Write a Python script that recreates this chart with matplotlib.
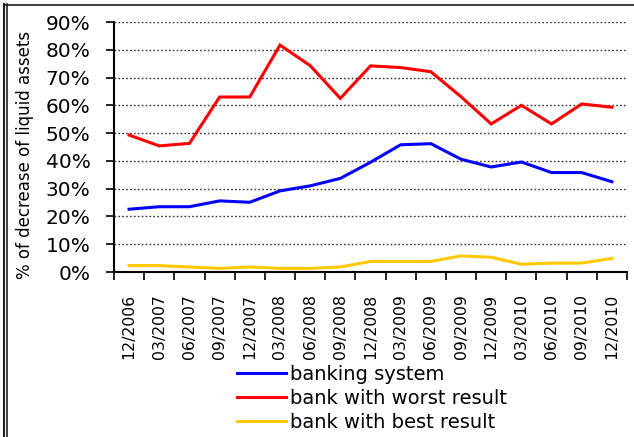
import matplotlib
matplotlib.use("Agg")
import matplotlib.pyplot as plt
from matplotlib.lines import Line2D

categories = ["12/2006", "03/2007", "06/2007", "09/2007", "12/2007", "03/2008",
              "06/2008", "09/2008", "12/2008", "03/2009", "06/2009", "09/2009",
              "12/2009", "03/2010", "06/2010", "09/2010", "12/2010"]
banking_system = [22.6, 23.5, 23.5, 25.6, 25.1, 29.2, 31.0, 33.7, 39.5, 45.8,
                  46.2, 40.6, 37.8, 39.6, 35.8, 35.8, 32.5]
worst_result = [49.3, 45.4, 46.3, 63.0, 63.0, 81.7, 74.3, 62.5, 74.2, 73.6,
                72.1, 63.1, 53.3, 60.0, 53.3, 60.5, 59.3]
best_result = [2.3, 2.3, 1.8, 1.3, 1.8, 1.3, 1.3, 1.8, 3.8, 3.8, 3.8, 5.8,
               5.3, 2.8, 3.2, 3.2, 4.9]
yticks = [0, 10, 20, 30, 40, 50, 60, 70, 80, 90]
series_names = ["banking system", "bank with worst result", "bank with best result"]
colors = ["#0000FF", "#FF0000", "#FFC800"]

W, H = 634, 437
fig = plt.figure(figsize=(W / 100, H / 100), dpi=100)
ax = fig.add_axes([114 / W, 1 - 272 / H, (627 - 114) / W, (272 - 22) / H])

x = list(range(len(categories)))
for vals, c in zip([banking_system, worst_result, best_result], colors):
    ax.plot(x, vals, color=c, lw=2.2, solid_joinstyle="miter", zorder=3)

ax.set_xlim(-0.5, len(categories) - 0.5)
ax.set_ylim(0, 90)
ax.set_yticks(yticks)
ax.set_yticklabels([f"{v}%" for v in yticks], fontsize=14.5)
for v in yticks[1:]:
    ax.axhline(v, color="#333333", lw=1.0, ls=(0, (1.2, 1.6)), zorder=1)

ax.set_xticks([i + 0.5 for i in range(-1, len(categories))], minor=False)
ax.set_xticklabels([])
ax.set_xticks(x, minor=True)
ax.set_xticklabels(categories, minor=True, rotation=90, fontsize=11.3)
ax.tick_params(axis="x", which="minor", length=0, pad=16)
ax.tick_params(axis="x", which="major", length=6, width=1.2, direction="out", color="black")
ax.tick_params(axis="y", length=5.5, width=1.2, direction="out", pad=11.5)

for s in ["top", "right"]:
    ax.spines[s].set_visible(False)
for s in ["left", "bottom"]:
    ax.spines[s].set_linewidth(1.5)
    ax.spines[s].set_color("black")

fig.text(25 / W, 1 - 155 / H, "% of decrease of liquid assets", rotation=90,
         ha="center", va="center", fontsize=12)

handles = [Line2D([0], [0], color=c, lw=2.2) for c in colors]
fig.legend(handles, series_names, loc="upper left",
           bbox_to_anchor=(237 / W, 1 - 365 / H), frameon=False,
           fontsize=14, handlelength=2.5, handletextpad=0.2,
           labelspacing=0.25, borderpad=0, borderaxespad=0)

# figure border lines
fig.add_artist(Line2D([5 / W, 1], [1 - 4.5 / H, 1 - 4.5 / H], color="#444444", lw=1.5))
fig.add_artist(Line2D([3.5 / W, 3.5 / W], [0, 1 - 4 / H], color="#222222", lw=1.5))
fig.add_artist(Line2D([6.5 / W, 6.5 / W], [0, 1 - 4 / H], color="#222222", lw=1.2))

fig.savefig("out.png", dpi=100)
